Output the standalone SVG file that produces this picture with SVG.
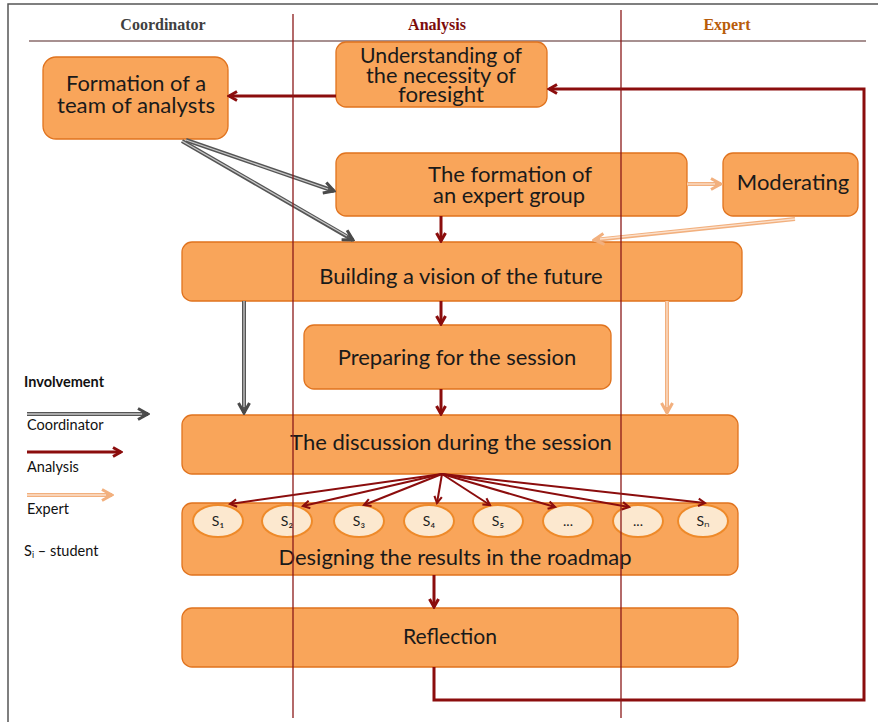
<svg xmlns="http://www.w3.org/2000/svg" width="878" height="722" viewBox="0 0 878 722">
<style>
.box{fill:#F9A55A;stroke:#E0731E;stroke-width:1.3}
.t{font-family:Lato,"Open Sans",sans-serif;fill:#1a1a1a;text-anchor:middle;font-size:22px}
.hd{font-family:"Liberation Serif",serif;font-weight:bold;font-size:16px;text-anchor:middle}
.lg{font-family:Lato,"Open Sans",sans-serif;font-size:14.5px;fill:#111}
.an{fill:none;stroke:#8B0D0D;stroke-width:3}
.fan{fill:none;stroke:#8B0D0D;stroke-width:2}
.co{fill:none;stroke:#555;stroke-width:4}
.coi{fill:none;stroke:#c8c8c8;stroke-width:1.3}
.ex{fill:none;stroke:#F2B07E;stroke-width:4}
.exi{fill:none;stroke:#FBE0CC;stroke-width:1.3}
.el{fill:#FCE8CF;stroke:#EE8A2A;stroke-width:2}
.st{font-family:Lato,"Open Sans",sans-serif;font-size:14px;fill:#222;text-anchor:middle}
.lane{stroke:#8B1A1A;stroke-width:1.3}
</style>
<defs>
<marker id="mA" viewBox="0 0 12 12" refX="10" refY="6" markerWidth="12" markerHeight="12" markerUnits="userSpaceOnUse" orient="auto"><path d="M2,1.5 L10,6 L2,10.5" fill="none" stroke="#8B0D0D" stroke-width="3"/></marker>
<marker id="mF" viewBox="0 0 12 12" refX="10" refY="6" markerWidth="10" markerHeight="10" markerUnits="userSpaceOnUse" orient="auto"><path d="M2,1.5 L10,6 L2,10.5" fill="none" stroke="#8B0D0D" stroke-width="2.5"/></marker>
<marker id="mC" viewBox="0 0 14 14" refX="12" refY="7" markerWidth="14" markerHeight="14" markerUnits="userSpaceOnUse" orient="auto"><path d="M2,1.5 L12,7 L2,12.5" fill="none" stroke="#4a4a4a" stroke-width="3"/></marker>
<marker id="mE" viewBox="0 0 14 14" refX="12" refY="7" markerWidth="14" markerHeight="14" markerUnits="userSpaceOnUse" orient="auto"><path d="M2,1.5 L12,7 L2,12.5" fill="none" stroke="#F2B07E" stroke-width="3"/></marker>
</defs>
<rect width="878" height="722" fill="#fff"/>
<!-- frame -->
<path d="M8,722 V4 H878" fill="none" stroke="#555" stroke-width="1.5"/>
<!-- header -->
<text class="hd" x="163" y="30" fill="#404040">Coordinator</text>
<text class="hd" x="437" y="30" fill="#7B0C0C">Analysis</text>
<text class="hd" x="727" y="30" fill="#B85C0A">Expert</text>
<line x1="29" y1="41" x2="866" y2="41" stroke="#8A6B6B" stroke-width="1.5"/>

<g id="formation">
<rect class="box" x="43" y="57" width="185" height="82" rx="13"/>
<text class="t" font-size="20" x="136" y="91" textLength="140" lengthAdjust="spacingAndGlyphs">Formation of a</text>
<text class="t" font-size="20" x="136" y="113" textLength="158" lengthAdjust="spacingAndGlyphs">team of analysts</text>
</g>
<g id="understanding">
<rect class="box" x="336" y="42" width="211" height="65" rx="10"/>
<text class="t" font-size="17" x="441" y="63" textLength="162" lengthAdjust="spacingAndGlyphs">Understanding of</text>
<text class="t" font-size="17" x="441" y="83" textLength="150" lengthAdjust="spacingAndGlyphs">the necessity of</text>
<text class="t" font-size="17" x="441" y="102" textLength="86" lengthAdjust="spacingAndGlyphs">foresight</text>
</g>
<g id="expertgroup">
<rect class="box" x="336" y="153" width="351" height="63" rx="10"/>
<text class="t" font-size="20" x="510" y="182" textLength="164" lengthAdjust="spacingAndGlyphs">The formation of</text>
<text class="t" font-size="20" x="509" y="203" textLength="152" lengthAdjust="spacingAndGlyphs">an expert group</text>
</g>
<g id="moderating">
<rect class="box" x="723" y="153" width="135" height="63" rx="10"/>
<text class="t" x="793" y="190">Moderating</text>
</g>
<g id="vision">
<rect class="box" x="182" y="242" width="560" height="59" rx="10"/>
<text class="t" x="461" y="284">Building a vision of the future</text>
</g>
<g id="preparing">
<rect class="box" x="304" y="325" width="307" height="64" rx="10"/>
<text class="t" x="457" y="365">Preparing for the session</text>
</g>
<g id="discussion">
<rect class="box" x="182" y="415" width="556" height="59" rx="10"/>
<text class="t" x="451" y="450">The discussion during the session</text>
</g>
<g id="designing">
<rect class="box" x="182" y="503" width="556" height="72" rx="10"/>
<text class="t" x="455" y="565">Designing the results in the roadmap</text>
<ellipse class="el" cx="218" cy="521" rx="25" ry="16"/><text class="st" x="218" y="526">S₁</text>
<ellipse class="el" cx="287" cy="521" rx="25" ry="16"/><text class="st" x="287" y="526">S₂</text>
<ellipse class="el" cx="359" cy="521" rx="25" ry="16"/><text class="st" x="359" y="526">S₃</text>
<ellipse class="el" cx="429" cy="521" rx="25" ry="16"/><text class="st" x="429" y="526">S₄</text>
<ellipse class="el" cx="498" cy="521" rx="25" ry="16"/><text class="st" x="498" y="526">S₅</text>
<ellipse class="el" cx="568" cy="521" rx="25" ry="16"/><text class="st" x="568" y="526">...</text>
<ellipse class="el" cx="638" cy="521" rx="25" ry="16"/><text class="st" x="638" y="526">...</text>
<ellipse class="el" cx="703" cy="521" rx="25" ry="16"/><text class="st" x="703" y="526">Sₙ</text>
</g>
<g id="reflection">
<rect class="box" x="182" y="608" width="556" height="59" rx="10"/>
<text class="t" x="450" y="644" textLength="94" lengthAdjust="spacingAndGlyphs">Reflection</text>
</g>

<g id="connectors">
<!-- analysis -->
<line class="an" x1="336" y1="96" x2="229" y2="96" marker-end="url(#mA)"/>
<path class="an" d="M434,667 V700 H864 V89 H549" marker-end="url(#mA)"/>
<line class="an" x1="441" y1="216" x2="441" y2="241" marker-end="url(#mA)"/>
<line class="an" x1="441" y1="301" x2="441" y2="324" marker-end="url(#mA)"/>
<line class="an" x1="441" y1="389" x2="441" y2="414" marker-end="url(#mA)"/>
<line class="an" x1="434" y1="575" x2="434" y2="607" marker-end="url(#mA)"/>
<!-- fan -->
<line class="fan" x1="442" y1="474" x2="230" y2="504" marker-end="url(#mF)"/>
<line class="fan" x1="442" y1="474" x2="303" y2="506" marker-end="url(#mF)"/>
<line class="fan" x1="442" y1="474" x2="364" y2="505" marker-end="url(#mF)"/>
<line class="fan" x1="442" y1="474" x2="437" y2="503" marker-end="url(#mF)"/>
<line class="fan" x1="442" y1="474" x2="490" y2="505" marker-end="url(#mF)"/>
<line class="fan" x1="442" y1="474" x2="555" y2="507" marker-end="url(#mF)"/>
<line class="fan" x1="442" y1="474" x2="629" y2="507" marker-end="url(#mF)"/>
<line class="fan" x1="442" y1="474" x2="705" y2="503" marker-end="url(#mF)"/>
<!-- coordinator -->
<line class="co" x1="186" y1="140" x2="334" y2="191" marker-end="url(#mC)"/>
<line class="coi" x1="186" y1="140" x2="328" y2="189"/>
<line class="co" x1="182" y1="141" x2="353" y2="240" marker-end="url(#mC)"/>
<line class="coi" x1="182" y1="141" x2="347" y2="236"/>
<line class="co" x1="244" y1="301" x2="244" y2="413" marker-end="url(#mC)"/>
<line class="coi" x1="244" y1="301" x2="244" y2="407"/>
<!-- expert -->
<line class="ex" x1="687" y1="184" x2="721" y2="184" marker-end="url(#mE)"/>
<line class="exi" x1="687" y1="184" x2="715" y2="184"/>
<line class="ex" x1="795" y1="219" x2="594" y2="240" marker-end="url(#mE)"/>
<line class="exi" x1="795" y1="219" x2="600" y2="239"/>
<line class="ex" x1="667" y1="301" x2="667" y2="413" marker-end="url(#mE)"/>
<line class="exi" x1="667" y1="301" x2="667" y2="407"/>
</g>

<!-- lanes -->
<line class="lane" x1="293" y1="14" x2="293" y2="718"/>
<line class="lane" x1="621" y1="10" x2="621" y2="718"/>

<!-- legend -->
<g id="legend">
<text class="lg" x="24" y="387" font-weight="bold" font-size="15">Involvement</text>
<line class="co" x1="27" y1="414" x2="148" y2="414" marker-end="url(#mC)"/>
<line class="coi" x1="27" y1="414" x2="142" y2="414"/>
<text class="lg" x="27" y="430">Coordinator</text>
<line class="an" x1="27" y1="452" x2="121" y2="452" marker-end="url(#mA)"/>
<text class="lg" x="27" y="472">Analysis</text>
<line class="ex" x1="27" y1="495" x2="112" y2="495" marker-end="url(#mE)"/>
<line class="exi" x1="27" y1="495" x2="106" y2="495"/>
<text class="lg" x="27" y="514">Expert</text>
<text class="lg" x="24" y="556">S<tspan font-size="9" dy="2">i</tspan><tspan dy="-2"> – student</tspan></text>
</g>
</svg>
